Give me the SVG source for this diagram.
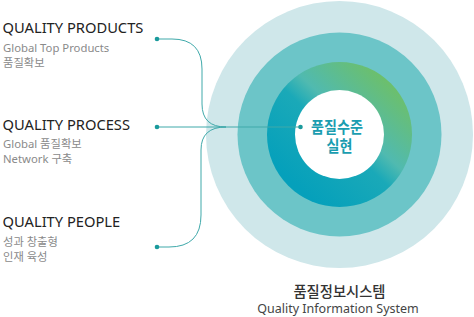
<svg xmlns="http://www.w3.org/2000/svg" width="474" height="317" viewBox="0 0 474 317">
<style>
.t{font-family:"Noto Sans","Noto Sans CJK KR",sans-serif;font-size:14.7px;fill:#222}
.s{font-family:"Noto Sans","Noto Sans CJK KR",sans-serif;font-size:11.3px;fill:#8a8a8a}
.c{font-family:"Noto Sans CJK KR","Noto Sans",sans-serif;font-size:15.5px;font-weight:bold;fill:#1a9db0}
.ln{fill:none;stroke:#3fa9aa;stroke-width:1}
.dot{fill:#1a9a9c}
</style>
<defs>
<linearGradient id="g" x1="0.2" y1="0.85" x2="0.85" y2="0.15">
<stop offset="0" stop-color="#05a0bb"/>
<stop offset="0.45" stop-color="#1aa9b8"/>
<stop offset="0.6" stop-color="#50bab0"/>
<stop offset="1" stop-color="#6cbf6c"/>
</linearGradient>
</defs>
<g id="system">
<circle cx="339.5" cy="134.5" r="133.5" fill="#cfe7ea"/>
<circle cx="339.5" cy="134.5" r="102" fill="#6cc5c8"/>
<circle cx="339.5" cy="134.5" r="72.5" fill="url(#g)"/>
<circle cx="339.5" cy="134.5" r="44.5" fill="#fff"/>
<text class="c" text-anchor="middle"><tspan x="337" y="133" textLength="52" lengthAdjust="spacingAndGlyphs">품질수준</tspan><tspan x="339.5" y="152" textLength="26" lengthAdjust="spacingAndGlyphs">실현</tspan></text>
<text x="339.5" y="297" text-anchor="middle" style="font-family:'Noto Sans CJK KR',sans-serif;font-size:14.3px;font-weight:500;fill:#333">품질정보시스템</text>
<text x="338" y="313" text-anchor="middle" style="font-family:'Noto Sans','Noto Sans CJK KR',sans-serif;font-size:12.5px;fill:#444">Quality Information System</text>
</g>
<g id="connectors">
<path class="ln" d="M157,39 H172 Q202,39 202,69 V104 Q202,127 226,127"/>
<path class="ln" d="M157,127 H300"/>
<path class="ln" d="M157,247 H169 Q201,247 201,215 V150 Q201,127 226,127"/>
<circle class="dot" cx="157" cy="39" r="2.3"/>
<circle class="dot" cx="157" cy="127" r="2.3"/>
<circle class="dot" cx="157" cy="247" r="2.3"/>
<circle class="dot" cx="300.5" cy="127" r="2.3"/>
</g>
<g id="products">
<text class="t" x="2.5" y="33">QUALITY PRODUCTS</text>
<text class="s" x="3" y="52">Global Top Products</text>
<text class="s" x="3" y="67">품질확보</text>
</g>
<g id="process">
<text class="t" x="2.5" y="130">QUALITY PROCESS</text>
<text class="s" x="3" y="148">Global 품질확보</text>
<text class="s" x="3" y="163">Network 구축</text>
</g>
<g id="people">
<text class="t" x="2.5" y="227">QUALITY PEOPLE</text>
<text class="s" x="3" y="246">성과 창출형</text>
<text class="s" x="3" y="261">인재 육성</text>
</g>
</svg>
